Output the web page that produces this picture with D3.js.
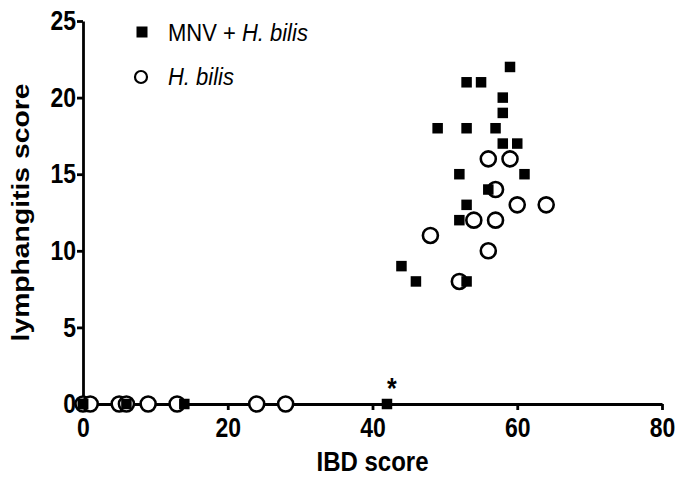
<!DOCTYPE html>
<html>
<head>
<meta charset="utf-8">
<script src="https://cdn.jsdelivr.net/npm/d3@7"></script>
<style>
  body { margin: 0; background: #fff; }
  #chart { width: 678px; height: 478px; }
  text { font-family: "Liberation Sans", Arial, sans-serif; }
</style>
</head>
<body>
<div id="chart"></div>
<script>
// MNV + H. bilis (filled squares)
const mnvIbd = [59, 53, 55, 58, 58, 49, 53, 57, 58, 60, 52, 61, 56, 53, 52, 44, 46, 53, 42, 14, 6, 0, 0];
const mnvLymph = [22, 21, 21, 20, 19, 18, 18, 18, 17, 17, 15, 15, 14, 13, 12, 9, 8, 8, 0, 0, 0, 0, 0];

// H. bilis only (open circles)
const hbIbd = [56, 59, 57, 60, 64, 54, 57, 48, 56, 52, 0, 1, 5, 6, 9, 13, 24, 28];
const hbLymph = [16, 16, 14, 13, 13, 12, 12, 11, 10, 8, 0, 0, 0, 0, 0, 0, 0, 0];

const xTicks = [0, 20, 40, 60, 80];
const yTicks = [0, 5, 10, 15, 20, 25];

const margin = {top: 21, right: 16, bottom: 74, left: 83};
const width = 678 - margin.left - margin.right;
const height = 478 - margin.top - margin.bottom;

// the original figure is a bit taller than it is wide, text included
const stretchY = 1.18;
function stretch(sel, k) {
    sel.attr("transform", function() {
        const tx = +this.getAttribute("x") || 0;
        const ty = +this.getAttribute("y") || 0;
        return `translate(${tx},${ty}) scale(1,${k}) translate(${-tx},${-ty})`;
    });
}

const svg = d3.select("#chart").append("svg")
    .attr("width", 678)
    .attr("height", 478)
  .append("g")
    .attr("transform", `translate(${margin.left},${margin.top})`);

const x = d3.scaleLinear().domain([0, 80]).range([0, width]);
const y = d3.scaleLinear().domain([0, 25]).range([height, 0]);

// axes
const xAxis = svg.append("g")
    .attr("transform", `translate(0,${height})`)
    .call(d3.axisBottom(x).tickValues(xTicks).tickSize(6).tickSizeOuter(0).tickPadding(8));

const yAxis = svg.append("g")
    .call(d3.axisLeft(y).tickValues(yTicks).tickSize(6).tickSizeOuter(0).tickPadding(1));

[xAxis, yAxis].forEach(a => {
    a.select(".domain").attr("stroke", "#000").attr("stroke-width", 2.8);
    a.selectAll(".tick line").attr("stroke", "#000").attr("stroke-width", 2.8);
    a.selectAll(".tick text")
        .attr("fill", "#000")
        .style("font-size", "23px")
        .style("font-weight", "bold")
        .style("font-family", '"Liberation Sans", Arial, sans-serif')
        .call(stretch, stretchY);
});

// axis titles
svg.append("text")
    .attr("x", width / 2)
    .attr("y", height + 67)
    .attr("text-anchor", "middle")
    .style("font-size", "24px")
    .style("font-weight", "bold")
    .text("IBD score")
    .call(stretch, stretchY);

svg.append("text")
    .attr("transform", `translate(-54,${height / 2}) rotate(-90) scale(${stretchY},1)`)
    .attr("text-anchor", "middle")
    .style("font-size", "24px")
    .style("font-weight", "bold")
    .text("lymphangitis score");

// circles
svg.selectAll(".hb")
    .data(hbIbd.map((v, i) => [v, hbLymph[i]]))
    .join("circle")
    .attr("class", "hb")
    .attr("cx", d => x(d[0]))
    .attr("cy", d => y(d[1]))
    .attr("r", 7.5)
    .attr("fill", "#fff")
    .attr("stroke", "#000")
    .attr("stroke-width", 2.6);

// squares
const sq = 10.5;
svg.selectAll(".mnv")
    .data(mnvIbd.map((v, i) => [v, mnvLymph[i]]))
    .join("rect")
    .attr("class", "mnv")
    .attr("x", d => x(d[0]) - sq / 2)
    .attr("y", d => y(d[1]) - sq / 2)
    .attr("width", sq)
    .attr("height", sq)
    .attr("fill", "#000");

// asterisk on the 42/0 point
svg.append("text")
    .attr("x", x(42) + 5)
    .attr("y", y(0) - 6)
    .attr("text-anchor", "middle")
    .style("font-size", "25px")
    .style("font-weight", "bold")
    .text("*")
    .call(stretch, stretchY);

// legend
const legend = svg.append("g").attr("transform", `translate(${142 - margin.left},${32 - margin.top})`);
legend.append("rect")
    .attr("x", -5.5).attr("y", -5.5)
    .attr("width", 11).attr("height", 11)
    .attr("fill", "#000");
const t1 = legend.append("text")
    .attr("x", 26).attr("y", 9)
    .style("font-size", "22px");
t1.append("tspan").text("MNV + ");
t1.append("tspan").style("font-style", "italic").text("H. bilis");
t1.call(stretch, 1.1);

legend.append("circle")
    .attr("cx", -1).attr("cy", 45)
    .attr("r", 6)
    .attr("fill", "#fff")
    .attr("stroke", "#000")
    .attr("stroke-width", 2.2);
legend.append("text")
    .attr("x", 26).attr("y", 53)
    .style("font-size", "22px")
    .style("font-style", "italic")
    .text("H. bilis")
    .call(stretch, 1.1);
</script>
</body>
</html>
